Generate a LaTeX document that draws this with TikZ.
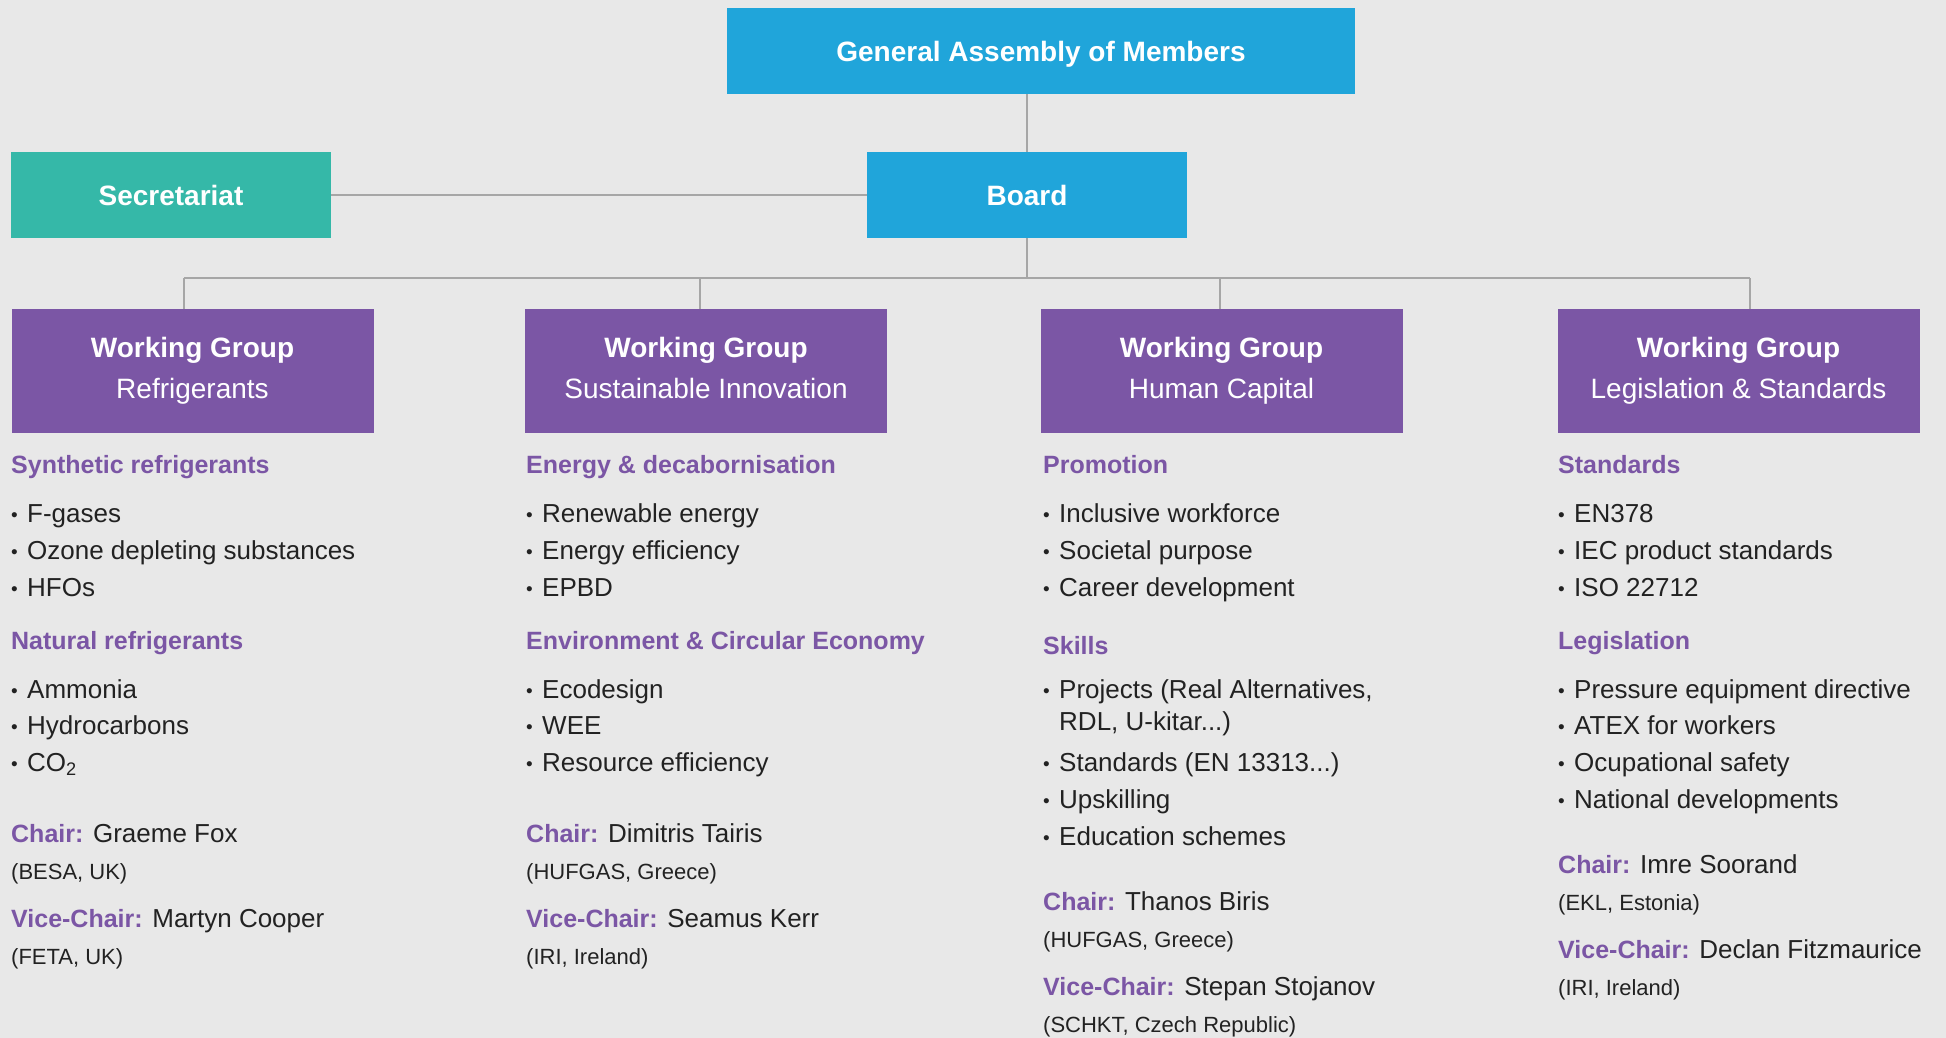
\documentclass[tikz,border=0pt]{standalone}
\usepackage{fontspec}
\setmainfont{Liberation Sans}
\definecolor{paper}{HTML}{E8E8E8}
\definecolor{assembly}{HTML}{20A5DA}
\definecolor{secret}{HTML}{35B8A8}
\definecolor{group}{HTML}{7B56A5}
\definecolor{ink}{HTML}{222222}
\definecolor{wire}{HTML}{A6A6A6}

\newcommand\bul{\makebox[16pt][l]{\raisebox{1pt}{\fontsize{19}{19}\selectfont\textbullet}}}
\newcommand\role[1]{{\color{group}\fontsize{25}{30}\selectfont\bfseries #1}}

\tikzset{
  box/.style={inner sep=0pt, text=white, minimum height=86pt, minimum width=320pt,
    text depth=0pt, font=\fontsize{28}{34}\selectfont\bfseries},
  wgbox/.style={fill=group, inner sep=0pt, text=white, minimum width=362pt,
    minimum height=124pt, align=center, font=\fontsize{28}{41}\selectfont},
  item/.style={anchor=base west, inner sep=0pt, text=ink, font=\fontsize{26}{30}\selectfont},
  head/.style={item, text=group, font=\fontsize{25}{30}\selectfont\bfseries},
  org/.style={item, font=\fontsize{22}{26}\selectfont},
  link/.style={draw=wire, line width=2.5pt}
}

\begin{document}
\begin{tikzpicture}[x=1pt,y=-1pt]
    \fill [paper] (0,0) rectangle (1946,1038);

    % top of the chart
    \node [box, fill=assembly, minimum width=628pt] (ga) at (1041,51) {General Assembly of Members};
    \node [box, fill=secret] (sec) at (171,195) {Secretariat};
    \node [box, fill=assembly] (board) at (1027,195) {Board};

    % working groups
    \node [wgbox] (wg1) at (192.5,371) {\rule{0pt}{26pt}\textbf{Working Group}\\Refrigerants\strut};
    \node [wgbox] (wg2) at (706,371) {\rule{0pt}{26pt}\textbf{Working Group}\\Sustainable Innovation\strut};
    \node [wgbox] (wg3) at (1221.5,371) {\rule{0pt}{26pt}\textbf{Working Group}\\Human Capital\strut};
    \node [wgbox] (wg4) at (1738.5,371) {\rule{0pt}{26pt}\textbf{Working Group}\\Legislation \& Standards\strut};

    % connectors
    \coordinate (j1) at (184,278);
    \coordinate (j2) at (700,278);
    \coordinate (j3) at (1220,278);
    \coordinate (j4) at (1750,278);
    \draw [link] (board.north) -- (board.north |- ga.south);
    \draw [link] (sec.east) -- (board.west);
    \draw [link] (board.south) -- (board.south |- j1);
    \draw [link] (j1) -- (j4);
    \draw [link] (j1) -- (j1 |- wg1.north);
    \draw [link] (j2) -- (j2 |- wg2.north);
    \draw [link] (j3) -- (j3 |- wg3.north);
    \draw [link] (j4) -- (j4 |- wg4.north);

    % Refrigerants
    \node [head] (refH1) at (11,473) {Synthetic refrigerants};
    \node [item] (refA) at (11,522) {\bul F-gases};
    \node [item] (refB) at (11,559) {\bul Ozone depleting substances};
    \node [item] (refC) at (11,596) {\bul HFOs};
    \node [head] (refH2) at (11,649) {Natural refrigerants};
    \node [item] (refD) at (11,698) {\bul Ammonia};
    \node [item] (refE) at (11,734) {\bul Hydrocarbons};
    \node [item] (refF) at (11,771) {\bul CO\textsubscript{2}};
    \node [item] (refChair) at (11,842) {\role{Chair:} Graeme Fox};
    \node [org] (refChairOrg) at (11,879) {(BESA, UK)};
    \node [item] (refVice) at (11,927) {\role{Vice-Chair:} Martyn Cooper};
    \node [org] (refViceOrg) at (11,964) {(FETA, UK)};

    % Sustainable Innovation
    \node [head] (susH1) at (526,473) {Energy \& decabornisation};
    \node [item] (susA) at (526,522) {\bul Renewable energy};
    \node [item] (susB) at (526,559) {\bul Energy efficiency};
    \node [item] (susC) at (526,596) {\bul EPBD};
    \node [head] (susH2) at (526,649) {Environment \& Circular Economy};
    \node [item] (susD) at (526,698) {\bul Ecodesign};
    \node [item] (susE) at (526,734) {\bul WEE};
    \node [item] (susF) at (526,771) {\bul Resource efficiency};
    \node [item] (susChair) at (526,842) {\role{Chair:} Dimitris Tairis};
    \node [org] (susChairOrg) at (526,879) {(HUFGAS, Greece)};
    \node [item] (susVice) at (526,927) {\role{Vice-Chair:} Seamus Kerr};
    \node [org] (susViceOrg) at (526,964) {(IRI, Ireland)};

    % Human Capital
    \node [head] (humH1) at (1043,473) {Promotion};
    \node [item] (humA) at (1043,522) {\bul Inclusive workforce};
    \node [item] (humB) at (1043,559) {\bul Societal purpose};
    \node [item] (humC) at (1043,596) {\bul Career development};
    \node [head] (humH2) at (1043,654) {Skills};
    \node [item] (humD) at (1043,698) {\bul Projects (Real Alternatives,};
    \node [item] (humD2) at (1059,730) {RDL, U-kitar...)};
    \node [item] (humE) at (1043,771) {\bul Standards (EN 13313...)};
    \node [item] (humF) at (1043,808) {\bul Upskilling};
    \node [item] (humG) at (1043,845) {\bul Education schemes};
    \node [item] (humChair) at (1043,910) {\role{Chair:} Thanos Biris};
    \node [org] (humChairOrg) at (1043,947) {(HUFGAS, Greece)};
    \node [item] (humVice) at (1043,995) {\role{Vice-Chair:} Stepan Stojanov};
    \node [org] (humViceOrg) at (1043,1032) {(SCHKT, Czech Republic)};

    % Legislation & Standards
    \node [head] (legH1) at (1558,473) {Standards};
    \node [item] (legA) at (1558,522) {\bul EN378};
    \node [item] (legB) at (1558,559) {\bul IEC product standards};
    \node [item] (legC) at (1558,596) {\bul ISO 22712};
    \node [head] (legH2) at (1558,649) {Legislation};
    \node [item] (legD) at (1558,698) {\bul Pressure equipment directive};
    \node [item] (legE) at (1558,734) {\bul ATEX for workers};
    \node [item] (legF) at (1558,771) {\bul Ocupational safety};
    \node [item] (legG) at (1558,808) {\bul National developments};
    \node [item] (legChair) at (1558,873) {\role{Chair:} Imre Soorand};
    \node [org] (legChairOrg) at (1558,910) {(EKL, Estonia)};
    \node [item] (legVice) at (1558,958) {\role{Vice-Chair:} Declan Fitzmaurice};
    \node [org] (legViceOrg) at (1558,995) {(IRI, Ireland)};
  \end{tikzpicture}
\end{document}
